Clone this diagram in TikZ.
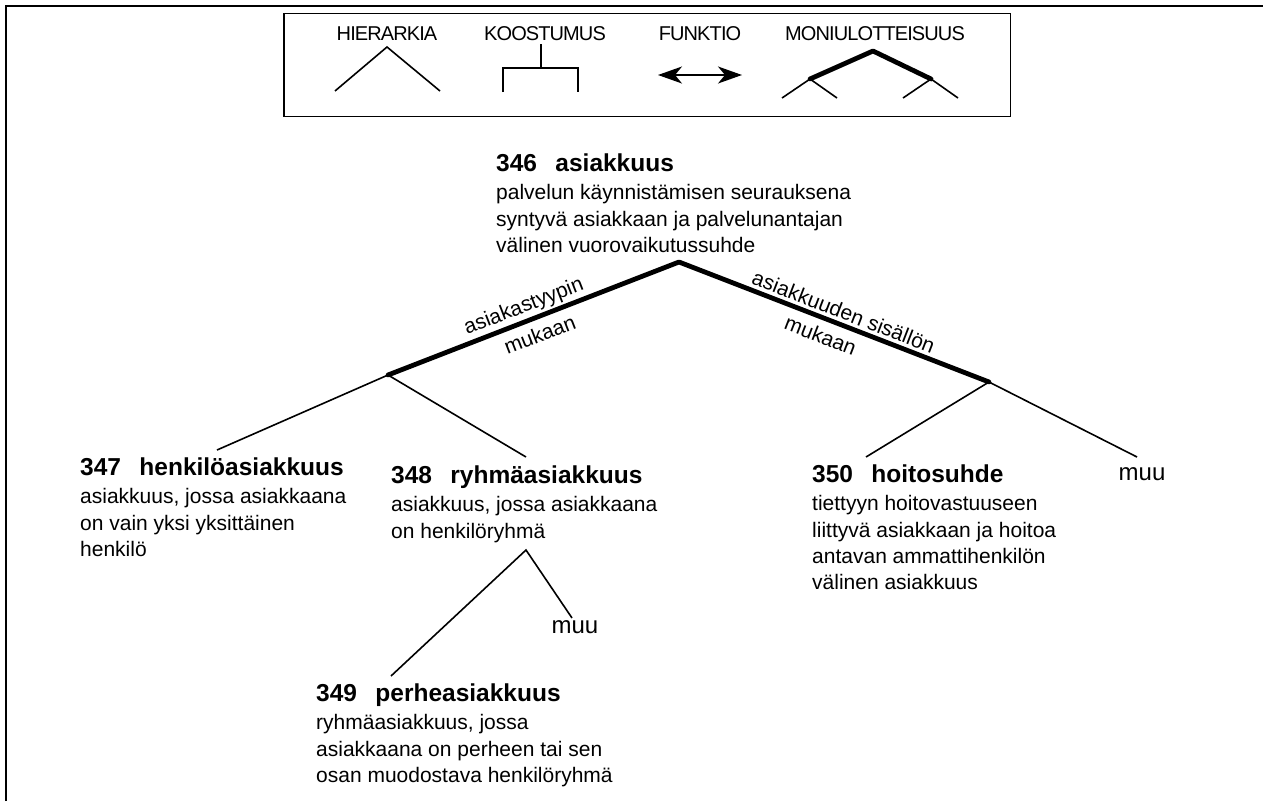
\documentclass[tikz,border=0pt]{standalone}
\usepackage{fontspec}
\setmainfont{Liberation Sans}
\newfontfamily\legendfont[LetterSpace = -4.5]{Liberation Sans}
\usetikzlibrary{arrows.meta, positioning}

\newcommand{\deffont}{\fontsize{21}{26.3}\selectfont}
\newcommand{\headfont}{\fontsize{24.5}{26.3}\selectfont\bfseries}
\newcommand{\head}[2]{{\headfont #1\hspace{0.75em}#2}}

\begin{document}
\begin{tikzpicture}[x = 1pt, y = -1pt,
        thinline/.style = {line width = 1.6pt},
        thickline/.style = {line width = 4.8pt, line cap = round, line join = round},
        concept/.style = {anchor = north west, inner sep = 0pt, align = left, font = \deffont},
        other/.style = {inner sep = 0pt, font = \fontsize{24}{24}\selectfont},
        legendtext/.style = {inner sep = 0pt, font = \legendfont\fontsize{20}{20}\selectfont},
        branchtext/.style = {sloped, inner sep = 0pt, font = \deffont},
        bigtip/.style = {{Stealth[length = 24pt, width = 17pt, inset = 7pt]}-{Stealth[length = 24pt, width = 17pt, inset = 7pt]}}]

    \useasboundingbox (0,0) rectangle (1263,801);

    % page frame (top and left only)
    \draw[line width = 2pt] (5.5,801) -- (5.5,5.5) -- (1263,5.5);

    % legend box
    \draw[line width = 1.6pt] (284,13.5) rectangle (1010.5,116.5);
    \node[legendtext] (hierarkia) at (387,34) {HIERARKIA};
    \node[legendtext] (koostumus) at (545,34) {KOOSTUMUS};
    \node[legendtext] (funktio) at (700,34) {FUNKTIO};
    \node[legendtext] (moniulotteisuus) at (875,34) {MONIULOTTEISUUS};
    \draw[thinline] (335,91) -- (387,47) -- (440,91);
    \draw[thinline] (541,44) -- (541,68);
    \draw[thinline] (503,92) -- (503,68) -- (578,68) -- (578,92);
    \draw[thinline, bigtip] (658,75) -- (742,75);
    \draw[thickline] (810,79) -- (873,51) -- (931,79);
    \draw[thinline] (782,98) -- (810,79) -- (837,98);
    \draw[thinline] (903,98) -- (931,79) -- (958,98);

    % branching points
    \coordinate (root) at (679,262);
    \coordinate (split347) at (388,375);
    \coordinate (split350) at (989,382);
    \coordinate (split349) at (526,550);
    \coordinate (end347) at (217,450);
    \coordinate (end348) at (526,457);
    \coordinate (end349) at (391,676);
    \coordinate (endmuu348) at (572,618);
    \coordinate (end350) at (866,457);
    \coordinate (endmuu350) at (1137,457);

    % concepts
    \node[concept] (n346) at (496,154) {\head{346}{asiakkuus}\\[1.5pt] palvelun käynnistämisen seurauksena\\ syntyvä asiakkaan ja palvelunantajan\\ välinen vuorovaikutussuhde};
    \node[concept] (n347) at (80,458) {\head{347}{henkilöasiakkuus}\\[1.5pt] asiakkuus, jossa asiakkaana\\ on vain yksi yksittäinen\\ henkilö};
    \node[concept] (n348) at (391,466) {\head{348}{ryhmäasiakkuus}\\[1.5pt] asiakkuus, jossa asiakkaana\\ on henkilöryhmä};
    \node[concept] (n349) at (316,684) {\head{349}{perheasiakkuus}\\[1.5pt] ryhmäasiakkuus, jossa\\ asiakkaana on perheen tai sen\\ osan muodostava henkilöryhmä};
    \node[concept] (n350) at (812,465) {\head{350}{hoitosuhde}\\[1.5pt] tiettyyn hoitovastuuseen\\ liittyvä asiakkaan ja hoitoa\\ antavan ammattihenkilön\\ välinen asiakkuus};
    \node[other] (muu348) at (575,627) {muu};
    \node[other] (muu350) at (1142,474) {muu};

    % dimensions of 346
    \draw[thickline] (split347)
        -- node[branchtext, above = 2pt, pos = 0.485] (tyyppi) {asiakastyypin}
           node[branchtext, below = 7pt, pos = 0.5] (tyyppimukaan) {mukaan} (root)
        -- node[branchtext, above = 3pt, pos = 0.516] (sisalto) {asiakkuuden sisällön}
           node[branchtext, below = 7pt, pos = 0.477] (sisaltomukaan) {mukaan} (split350);

    \draw[thinline] (end347) -- (split347) -- (end348);
    \draw[thinline] (end349) -- (split349) -- (endmuu348);
    \draw[thinline] (end350) -- (split350) -- (endmuu350);
\end{tikzpicture}
\end{document}
